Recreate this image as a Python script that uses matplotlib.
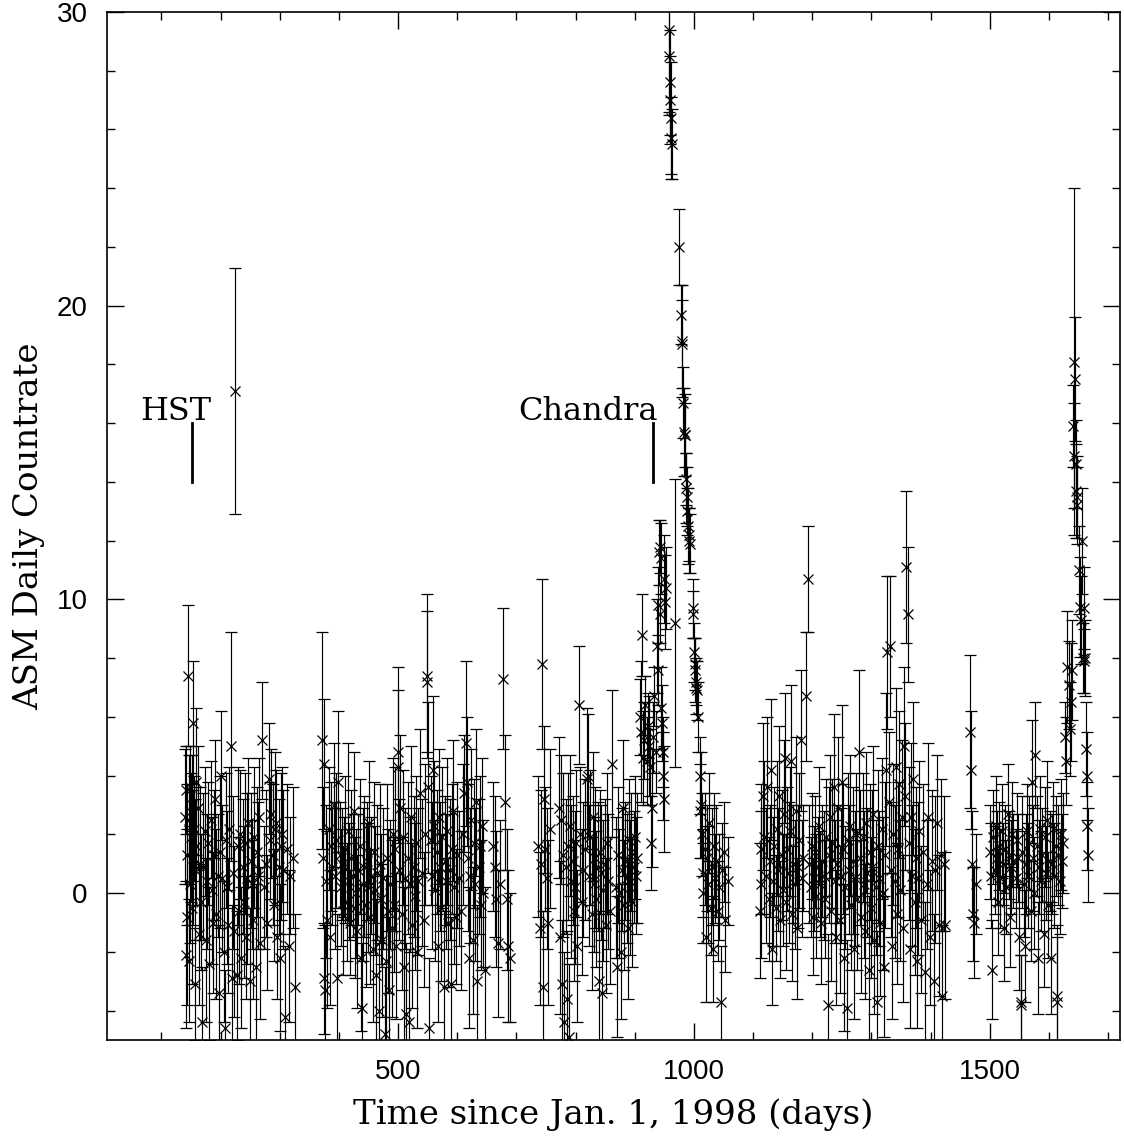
import numpy as np
import matplotlib
matplotlib.use("Agg")
import matplotlib.pyplot as plt
from matplotlib.ticker import MultipleLocator

# ---------------- data (day since 1998-01-01, ASM rate, 1-sigma error) ----------------
seg1_day = [140,141,142,143,144,145,146,147,148,149,
            150,151,152,153,154,155,156,157,158,159,
            161,163,165,167,169,171,173,175,177,179,
            181,183,185,187,189,191,193,195,197,199,
            201,203,205,207,209,211,213,215,217,219,
            221,223,225,227,229,231,233,235,237,239,
            241,243,245,247,249,251,253,255,257,259,
            261,263,265,267,270,273,276,279,282,284,
            286,288,290,292,294,296,298,300,302,304,
            306,309,312,315,318,322,326]
seg1_rate = [2.6,-2.1,3.5,1.3,-0.8,7.4,-2.3,2.5,3.6,0.3,
             1.9,-0.5,3.0,1.2,5.8,2.2,0.8,-3.1,3.8,1.6,
             2.9,-1.4,1.0,-0.3,-4.4,0.9,2.1,-1.6,0.4,1.7,
             -2.4,2.5,0.1,-1.0,1.3,3.2,-0.7,0.6,-3.4,1.4,
             4.0,0.5,-2.0,-4.6,1.8,0.2,-1.1,2.2,5.0,-2.9,
             0.7,-1.3,17.1,-2.8,1.6,-0.6,2.0,-2.2,0.9,-0.3,
             1.7,-1.5,0.5,2.4,-3.0,1.1,0.3,-0.9,1.9,-2.5,
             1.4,0.6,2.6,-1.7,5.2,0.2,1.0,-1.0,3.9,1.8,
             2.7,1.3,-0.4,2.2,2.4,-1.5,0.9,-2.2,1.6,2.0,
             0.8,-4.2,1.5,-1.8,0.6,1.2,-3.2]
seg1_err = [2.3,2.5,1.5,2.4,3.0,2.4,2.1,2.2,1.4,2.0,
            2.2,2.6,1.7,2.3,2.1,1.8,2.4,1.9,2.5,2.0,
            2.1,2.4,2.6,2.3,1.9,2.5,2.2,2.8,2.3,2.1,
            2.6,2.0,2.5,2.4,2.2,2.0,2.9,2.1,2.3,2.6,
            2.2,2.5,2.4,2.0,2.3,2.6,2.3,2.1,3.9,2.5,
            2.6,2.9,4.2,2.2,2.7,2.5,2.2,2.4,2.3,2.6,
            2.4,2.1,2.9,2.2,2.5,2.3,2.2,2.7,2.4,2.8,
            2.2,2.5,2.0,2.6,2.0,2.1,2.5,2.3,1.9,2.0,
            2.2,2.4,1.9,2.6,1.8,2.1,2.3,2.5,2.5,2.3,
            2.7,2.4,2.2,2.6,2.0,2.4,2.5]

seg2_day = [372,373,374,375,376,378,380,383,385,387,
            389,391,393,395,397,399,401,403,405,407,
            409,411,413,415,417,419,421,423,425,427,
            429,431,433,435,437,439,441,443,445,447,
            449,451,453,455,457,459,461,463,465,467,
            469,471,473,475,477,479,481,483,485,487,
            489,491,493,495,497,499,500,502,504,506,
            508,510,512,514,516,518,520,522,524,526,
            528,530,532,534,537,540,543,546,548,549,
            551,553,555,557,559,561,563,565,567,569,
            571,573,575,577,579,581,583,585,587,589,
            591,593,595,597,600,603,606,609,612,614,
            616,618,620,622,624,626,628,630,632,634,
            636,638,640,642,644,646,660,663,666,669,
            672,677,681,684,686,689]
seg2_rate = [5.2,1.2,4.4,-2.9,-3.3,0.4,-0.9,2.2,-1.5,1.6,
             0.9,3.0,0.6,1.8,-2.9,3.8,1.3,0.2,1.0,-0.6,
             0.9,1.5,-0.3,2.1,0.4,-1.0,1.2,0.6,2.8,-0.5,
             0.0,-1.3,0.8,1.6,-2.2,-3.9,0.3,0.9,-0.4,1.1,
             0.2,2.4,-0.8,0.6,-1.9,1.4,0.1,-2.8,0.7,-4.0,
             1.0,-0.2,-1.6,0.5,-4.8,-2.3,1.2,-0.6,-3.3,0.3,
             -1.2,2.0,-0.4,1.5,-1.8,4.8,4.3,0.8,2.9,-0.7,
             1.9,-2.5,0.5,-4.1,1.2,-4.4,0.3,2.6,-1.1,0.9,
             -0.1,1.7,-2.0,0.4,3.4,0.7,-0.9,2.0,7.4,7.2,
             3.6,-4.6,1.8,0.6,4.2,2.3,0.1,1.4,-1.8,2.6,
             0.9,-0.5,1.9,-3.2,1.1,0.4,2.1,-1.0,0.8,-3.1,
             1.5,2.8,0.2,-0.8,1.3,0.5,-0.6,2.0,3.4,5.1,
             3.8,1.2,-2.2,0.6,2.5,-1.6,1.7,0.3,3.1,-3.0,
             0.9,1.6,-0.4,2.3,0.0,-2.6,1.6,0.9,-0.2,-1.7,
             0.3,7.3,3.1,-0.2,-1.8,-2.2]
seg2_err = [3.7,2.4,2.2,1.9,2.2,2.6,3.0,2.1,2.3,2.2,
            2.0,2.1,2.5,2.3,2.2,2.4,1.8,2.0,1.9,2.2,
            1.7,2.5,2.0,3.0,2.0,1.8,2.3,2.1,2.0,2.4,
            2.2,2.6,1.9,2.3,2.5,2.2,2.6,2.4,2.8,2.0,
            2.2,2.1,2.3,2.0,2.5,2.4,2.2,2.6,2.3,2.4,
            2.7,2.2,2.6,2.4,2.3,2.9,2.5,2.8,2.5,2.2,
            3.0,2.6,2.3,2.8,2.5,2.9,2.6,2.4,2.5,2.6,
            2.3,2.7,2.4,2.4,2.6,2.5,2.3,2.4,2.8,2.4,
            2.5,2.3,2.6,2.5,2.2,2.5,2.3,2.4,2.8,2.4,
            2.9,2.4,2.2,2.5,2.5,2.2,2.4,2.1,2.6,2.3,
            2.2,2.5,2.4,2.6,2.2,2.3,2.5,2.2,2.4,2.3,
            2.2,2.4,2.6,2.3,2.5,2.3,2.7,2.4,2.0,2.8,
            2.2,2.5,2.4,2.3,2.4,2.5,2.2,2.6,2.5,2.6,
            2.3,2.4,2.2,2.3,2.5,2.8,2.2,2.4,2.3,2.5,
            2.2,2.4,2.3,2.4,2.6,2.2]

seg3_day = [737,739,741,743,745,747,749,751,754,757,
            772,774,776,777,779,781,783,785,787,789,
            791,793,795,797,799,801,803,806,808,810,
            813,816,819,821,823,825,827,829,831,833,
            835,837,839,841,843,845,847,849,851,853,
            855,858,862,868,870,872,874,876,878,880,
            882,884,886,888,890,892,894,896,898,900,
            902,904]
seg3_rate = [1.6,-1.2,1.0,7.8,-3.2,3.2,1.5,0.5,-1.0,2.2,
             2.9,-1.5,2.5,-3.1,1.3,-4.4,0.9,-3.6,1.6,-4.9,
             2.3,0.4,1.1,-0.6,0.2,1.7,-1.8,6.4,2.0,-0.3,
             0.8,1.5,3.9,4.0,0.6,1.9,-0.7,2.6,0.3,1.2,
             -0.2,0.9,-3.0,1.4,0.7,-3.4,0.1,1.0,-1.1,1.7,
             0.4,-0.6,4.4,0.2,-2.5,1.3,0.0,-2.0,0.8,2.9,
             -0.4,1.1,0.5,-1.2,1.8,0.2,1.4,-0.3,0.9,1.9,
             0.6,1.2]
seg3_err = [2.4,2.6,2.5,2.9,2.6,2.5,2.1,2.4,2.8,2.7,
            2.4,2.6,2.2,2.2,2.8,2.4,2.3,2.3,2.5,2.5,
            2.4,2.6,2.2,2.4,2.6,2.5,2.6,2.0,2.3,2.5,
            2.3,2.4,2.4,2.1,2.4,2.3,2.6,2.2,2.3,2.4,
            2.3,2.2,2.4,2.1,2.3,2.2,2.4,2.2,2.3,2.4,
            2.3,2.5,2.5,2.4,2.4,2.3,2.2,2.3,2.1,2.3,
            2.2,2.0,2.2,2.4,2.1,2.3,2.0,2.2,1.9,2.1,
            2.0,2.2]

seg4_day = [908,910,912,914,916,918,920,922,924,926,
            928,929,931,933,935,937,939,940,941,942,
            943,944,945,946,947,948,949,950,951,952,
            957,958,959,960,961,962,963,968,975,978,
            979,980,982,983,984,985,986,987,988,989,
            990,991,992,993,998,999,1000,1001,1002,1003,
            1004,1005,1006,1010,1011,1012,1014,1015,1016,1018,
            1020,1022,1024,1026,1028,1030,1032,1034,1036,1038,
            1040,1042,1045,1047,1050,1053,1057]
seg4_rate = [6.0,5.5,8.8,4.6,5.2,6.4,4.5,5.7,5.0,4.3,
             1.7,2.9,5.3,6.7,4.8,8.4,7.6,9.8,11.6,9.5,
             11.8,6.3,11.4,5.8,4.8,4.0,3.2,10.7,9.9,10.4,
             29.4,28.5,27.6,27.0,26.4,25.7,25.5,9.2,22.0,19.7,
             18.8,18.7,16.7,15.7,15.6,15.6,14.1,13.8,13.5,13.0,
             12.5,12.2,12.0,11.9,9.7,9.5,8.2,7.8,7.6,7.2,
             7.0,6.9,6.0,4.0,2.8,3.0,2.0,0.7,0.0,1.5,
             -1.5,1.2,0.3,2.4,-0.5,0.9,-1.9,1.6,0.5,1.1,
             -0.6,0.2,-3.7,0.8,1.4,-0.9,0.4]
seg4_err = [1.3,2.4,1.4,1.6,1.3,1.0,1.5,1.1,1.7,1.3,
            1.6,2.0,1.2,1.0,1.4,1.6,1.2,1.3,1.1,1.0,
            0.9,1.4,1.2,1.3,1.2,1.5,1.8,1.5,1.6,1.4,
            2.8,2.0,1.8,1.5,1.9,1.4,1.2,4.9,1.3,1.0,
            1.9,1.5,1.2,1.5,1.1,1.4,0.9,1.2,1.0,0.8,
            1.3,0.9,1.1,1.0,1.0,0.8,1.0,0.9,1.1,0.8,
            0.9,1.0,1.2,1.3,1.6,1.8,1.4,1.5,1.7,1.9,
            2.2,1.8,2.0,1.7,1.6,2.0,1.8,1.8,1.5,1.9,
            1.7,1.8,1.9,1.6,1.7,1.8,1.5]

seg5_day = [1111,1113,1114,1116,1119,1122,1124,1126,1128,1130,
            1132,1134,1136,1138,1140,1142,1144,1146,1148,1150,
            1152,1154,1156,1158,1160,1162,1164,1166,1168,1170,
            1172,1174,1176,1178,1181,1183,1185,1189,1193,1195,
            1197,1199,1201,1203,1205,1207,1209,1211,1213,1215,
            1217,1219,1221,1223,1226,1228,1230,1232,1234,1236,
            1238,1240,1242,1244,1246,1248,1250,1252,1254,1256,
            1258,1260,1262,1264,1266,1268,1270,1272,1274,1276,
            1279,1281,1283,1285,1287,1289,1291,1293,1295,1297,
            1299,1301,1303,1305,1307,1309,1311,1313,1315,1317,
            1319,1321,1323,1325,1327,1329,1331,1333,1335,1337,
            1339,1341,1343,1345,1347,1349,1351,1353,1355,1357,
            1359,1361,1363,1365,1367,1369,1371,1373,1375,1377,
            1379,1381,1384,1387,1390,1393,1396,1399,1402,1405,
            1408,1411,1414,1417,1420,1422,1424]
seg5_rate = [-0.6,1.5,0.3,3.3,1.9,0.6,3.6,-0.2,1.1,4.2,
             -1.9,0.4,1.6,-0.5,2.2,0.8,3.3,-0.9,1.3,0.1,
             2.7,4.6,-0.3,1.5,0.7,2.1,4.5,-0.7,1.0,0.3,
             2.8,-1.2,0.9,1.8,5.2,0.5,1.2,6.7,10.7,1.0,
             0.2,1.6,-0.8,0.5,1.4,-0.1,0.9,2.3,0.3,-1.0,
             1.1,0.6,-0.2,1.9,-3.8,1.3,2.6,-0.6,1.7,3.6,
             0.4,-1.5,1.0,2.9,-0.9,0.6,3.8,1.5,-2.2,0.2,
             -3.9,1.8,0.8,2.3,-0.4,1.1,-1.9,0.5,2.0,-0.2,
             4.8,1.2,-0.8,1.9,0.3,-1.3,2.4,0.7,-2.6,1.4,
             -0.5,0.9,2.7,-1.6,0.2,-3.7,1.6,0.5,-1.0,2.2,
             0.0,-2.5,1.3,4.2,8.2,3.1,8.4,0.8,-1.8,2.0,
             0.4,4.3,-0.7,1.5,3.7,0.1,2.6,-1.2,5.0,3.3,
             11.1,9.5,1.7,-1.9,2.6,0.6,3.9,-0.3,1.2,-2.3,
             0.5,2.1,-0.9,1.4,-2.7,0.3,2.6,-1.5,1.1,-3.0,
             0.8,2.4,-1.1,1.3,-3.5,1.0,-1.1]
seg5_err = [2.3,2.2,2.5,2.5,2.6,2.3,2.4,2.1,1.9,2.4,
            1.9,2.2,2.0,1.8,2.3,2.1,2.4,2.0,2.2,1.9,
            2.5,2.2,2.3,2.1,2.4,2.2,2.6,2.3,2.0,2.2,
            2.5,2.4,2.1,2.3,2.4,2.0,1.8,2.2,1.8,2.0,
            1.7,1.8,2.0,1.8,1.9,2.1,1.7,2.0,1.8,2.1,
            1.9,2.2,2.0,2.0,2.4,2.3,2.1,2.4,2.2,2.5,
            2.1,2.3,2.0,2.4,2.5,2.3,2.6,2.2,2.5,2.1,
            2.3,2.3,2.2,2.4,2.2,2.5,2.4,2.3,2.1,2.4,
            2.8,2.3,2.6,2.2,2.5,2.3,2.4,2.2,2.5,2.3,
            2.4,2.6,2.3,2.5,2.3,2.4,2.6,2.3,2.5,2.4,
            2.6,2.4,2.5,2.6,2.6,2.4,2.4,2.3,2.5,2.4,
            2.6,2.7,2.4,2.3,2.5,2.4,2.6,2.5,2.7,2.5,
            2.6,2.3,2.6,2.7,2.5,2.4,2.6,2.5,2.4,2.3,
            2.6,2.4,2.5,2.3,2.4,2.2,2.5,2.3,2.4,2.3,
            2.5,2.3,2.4,2.6,2.4,2.3,2.5]

seg6_day = [1466,1468,1470,1472,1474,1476,1500,1502,1504,1506,
            1508,1510,1512,1514,1516,1518,1520,1522,1524,1526,
            1528,1530,1532,1534,1536,1538,1540,1544,1546,1548,
            1550,1552,1553,1555,1557,1559,1561,1563,1565,1567,
            1569,1571,1573,1575,1577,1579,1581,1583,1585,1587,
            1589,1591,1593,1595,1597,1599,1601,1603,1605,1607,
            1609,1611,1613,1614,1616,1618,1620,1622,1624,1627,
            1629,1631,1633,1635,1637,1639,1641,1642,1643,1644,
            1645,1646,1647,1648,1650,1652,1654,1655,1657,1659,
            1660,1661,1663,1664,1665,1666]
seg6_rate = [5.5,4.2,1.0,-0.7,-1.0,0.3,1.4,0.6,-2.6,1.9,
             0.8,2.3,1.2,-0.3,1.6,0.5,2.1,1.0,-1.2,1.5,
             0.2,2.7,1.3,-0.8,0.9,2.0,1.1,0.5,1.8,1.2,
             -1.5,-3.8,-3.7,1.4,0.3,-1.8,1.0,2.1,0.6,1.7,
             -0.6,3.8,1.2,0.0,4.7,1.6,-2.2,0.9,2.2,0.4,
             1.3,-1.4,1.9,0.7,2.5,-0.4,1.1,-2.2,1.0,2.2,
             0.6,1.6,-3.7,-3.5,1.3,0.4,2.0,1.1,1.7,5.3,
             4.5,7.7,7.1,5.6,6.5,7.6,15.9,14.9,18.1,17.5,
             14.6,13.7,13.5,13.2,11.0,9.75,9.3,12.0,8.0,9.7,
             7.9,8.0,4.9,4.0,2.3,1.3]
seg6_err = [2.6,2.0,1.8,1.6,1.9,1.7,1.6,1.8,1.7,1.6,
            1.5,1.7,1.6,1.8,1.5,1.7,1.6,1.4,1.8,1.5,
            1.6,1.7,1.5,1.7,1.6,1.8,1.6,1.7,1.6,1.5,
            1.8,1.7,1.6,1.9,1.8,1.9,1.7,1.6,1.8,1.6,
            1.7,2.1,1.8,1.9,1.8,1.7,1.9,1.6,1.8,1.7,
            1.6,1.8,1.7,1.6,2.0,1.8,1.7,1.9,1.7,1.6,
            1.8,1.7,2.2,2.4,1.7,1.8,1.9,1.6,1.7,1.2,
            1.5,1.9,1.5,1.6,2.0,1.7,1.4,1.8,5.9,2.1,
            1.5,1.6,1.4,1.3,1.5,1.7,1.5,1.8,1.2,1.4,
            1.1,1.3,1.6,1.5,1.5,1.6]

# observation markers
obs_labels = ["HST", "Chandra"]
obs_days = [152, 931]
obs_label_days = [125, 821]
obs_mark_range = (14.0, 16.0)
obs_label_y = 16.1

x_ticks = [500, 1000, 1500]
y_ticks = [0, 10, 20, 30]

# ---------------- plotting ----------------
days = np.concatenate([seg1_day, seg2_day, seg3_day, seg4_day, seg5_day, seg6_day])
rate = np.concatenate([seg1_rate, seg2_rate, seg3_rate, seg4_rate, seg5_rate, seg6_rate])
err = np.concatenate([seg1_err, seg2_err, seg3_err, seg4_err, seg5_err, seg6_err])

fig = plt.figure(figsize=(11.24, 11.37), dpi=100)
ax = fig.add_axes([107/1124, 1 - 1040/1137, (1120 - 107)/1124, (1040 - 12)/1137])

ax.errorbar(days, rate, yerr=err, fmt='x', color='black', ms=6.5, mew=0.9,
            elinewidth=0.85, capsize=4.5, capthick=0.85)

serif = 'DejaVu Serif'
for lab, d, ld in zip(obs_labels, obs_days, obs_label_days):
    ax.plot([d, d], obs_mark_range, color='black', lw=2.0)
    ax.text(ld, obs_label_y, lab, ha='center', va='baseline',
            family=serif, fontsize=23, color='black')

ax.set_xlim(8, 1720)
ax.set_ylim(-5, 30)
ax.set_xticks(x_ticks)
ax.set_yticks(y_ticks)
ax.xaxis.set_minor_locator(MultipleLocator(100))
ax.yaxis.set_minor_locator(MultipleLocator(2))
ax.tick_params(which='both', direction='in', top=True, right=True, width=1.0)
ax.tick_params(which='major', length=12, labelsize=20, pad=14)
ax.tick_params(which='minor', length=6)
for lbl in ax.get_xticklabels() + ax.get_yticklabels():
    lbl.set_family('Liberation Sans')
for sp in ax.spines.values():
    sp.set_linewidth(1.2)

ax.set_xlabel("Time since Jan. 1, 1998 (days)", family=serif,
              fontsize=24.5, labelpad=9)
ax.set_ylabel("ASM Daily Countrate", family=serif,
              fontsize=24.5, labelpad=8)

fig.savefig("out.png", dpi=100)
